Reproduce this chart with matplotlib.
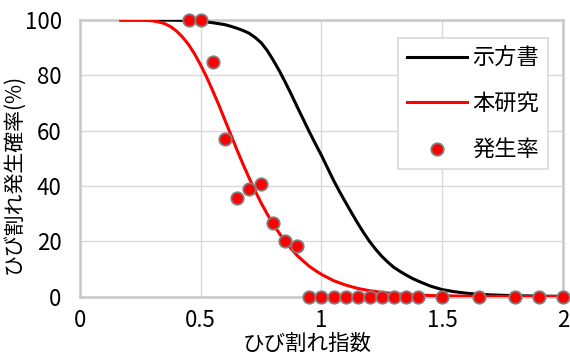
import numpy as np
import matplotlib
matplotlib.use("Agg")
import matplotlib.pyplot as plt
#
plt.rcParams['font.family'] = ['Noto Sans CJK JP', 'DejaVu Sans']
# observed crack rate (points)
px = [0.45, 0.5, 0.55, 0.6, 0.65, 0.7, 0.75, 0.8, 0.85, 0.9,
      0.95, 1.0, 1.05, 1.1, 1.15, 1.2, 1.25, 1.3, 1.35, 1.4, 1.5, 1.65, 1.8, 1.9, 2.0]
py = [100, 100, 84.7, 56.9, 35.8, 38.8, 40.8, 26.6, 20.0, 18.1,
      0, 0, 0, 0, 0, 0, 0, 0, 0, 0, 0, 0, 0, 0, 0]
# curve "示方書"
bx = [0.17, 0.3, 0.4, 0.45, 0.5, 0.55, 0.6, 0.625, 0.65, 0.675, 0.7, 0.725, 0.75, 0.775,
      0.8, 0.825, 0.85, 0.875, 0.9, 0.925, 0.95, 0.975, 1.0, 1.025, 1.05, 1.075, 1.1,
      1.125, 1.15, 1.175, 1.2, 1.225, 1.25, 1.275, 1.3, 1.325, 1.35, 1.375, 1.4, 1.45,
      1.5, 1.55, 1.6, 1.65, 1.7, 1.8, 1.9, 2.0]
by = [100, 100, 99.9, 99.8, 99.5, 99.0, 98.3, 97.7, 97.0, 96.2, 95.2, 93.7, 91.8, 89.0,
      85.5, 81.7, 77.5, 73.1, 68.5, 64.0, 59.5, 55.2, 51.0, 46.5, 42.0, 37.9, 34.0,
      30.2, 26.5, 23.0, 19.8, 17.0, 14.5, 12.4, 10.5, 9.1, 7.8, 6.6, 5.6, 3.8,
      2.5, 1.75, 1.2, 0.85, 0.6, 0.3, 0.15, 0.08]
# curve "本研究"
rx = [0.17, 0.2, 0.25, 0.3, 0.325, 0.35, 0.375, 0.4, 0.425, 0.45, 0.475, 0.5, 0.525,
      0.55, 0.575, 0.6, 0.625, 0.65, 0.675, 0.7, 0.725, 0.75, 0.775, 0.8, 0.825, 0.85,
      0.875, 0.9, 0.925, 0.95, 0.975, 1.0, 1.05, 1.1, 1.15, 1.2, 1.25, 1.3, 1.35, 1.4,
      1.5, 1.6, 1.8, 2.0]
ry = [100, 100, 99.96, 99.7, 99.3, 98.7, 97.6, 96.0, 93.8, 91.1, 87.7, 83.7, 79.3,
      74.4, 69.3, 63.9, 58.5, 53.1, 47.9, 43.0, 38.3, 33.9, 29.9, 26.2, 22.9, 19.9,
      17.2, 14.8, 12.8, 10.9, 9.4, 8.0, 5.75, 4.15, 2.95, 2.1, 1.5, 1.04, 0.73, 0.51,
      0.26, 0.12, 0.03, 0.01]
xt = [0, 0.5, 1, 1.5, 2]
xtl = ['0', '0.5', '1', '1.5', '2']
yt = [0, 20, 40, 60, 80, 100]
#
fig = plt.figure(figsize=(5.7, 3.56), dpi=100)
ax = fig.add_axes([0.140, 0.167, 0.848, 0.777])
ax.plot(bx, by, color='black', lw=2.2, label='示方書', zorder=3)
ax.plot(rx, ry, color='#ff0000', lw=2.2, label='本研究', zorder=4)
ax.scatter(px, py, s=80, color='#ff0000', edgecolors='#7f7f7f', linewidths=1.3,
           label='発生率', zorder=5, clip_on=False)
ax.set_xlim(0, 2)
ax.set_ylim(0, 100)
ax.set_xticks(xt)
ax.set_xticklabels(xtl)
ax.set_yticks(yt)
ax.tick_params(length=0, labelsize=16)
ax.tick_params(axis='x', pad=9)
ax.tick_params(axis='y', pad=13)
ax.grid(color='#d9d9d9', lw=1)
ax.set_axisbelow(True)
for s in ax.spines.values():
  s.set_color('#c8c8c8')
  s.set_linewidth(1.8)
ax.set_xlabel('ひび割れ指数', fontsize=15.5, labelpad=0, va='bottom')
ax.xaxis.set_label_coords(0.47, -0.21)
ax.set_ylabel('ひび割れ発生確率(%)', fontsize=15)
ax.yaxis.set_label_coords(-0.114, 0.443)
lg = ax.legend(loc='upper right', bbox_to_anchor=(0.969, 0.935), borderaxespad=0,
               fontsize=16, fancybox=False, edgecolor='#d9d9d9', framealpha=1,
               handlelength=2.7, labelspacing=1.0, borderpad=0.4, handletextpad=0.25)
lg.get_frame().set_linewidth(1.2)
fig.savefig('out.png', dpi=100)
